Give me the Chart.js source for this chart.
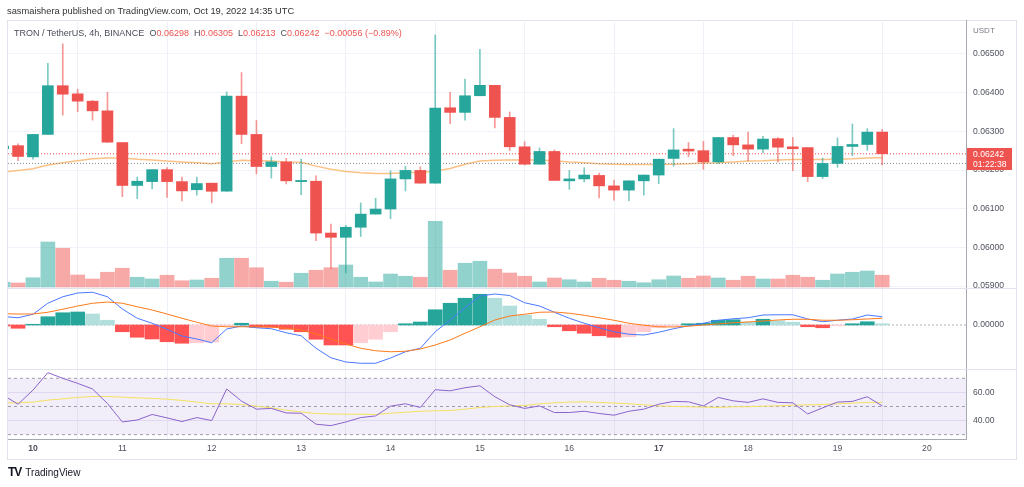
<!DOCTYPE html>
<html>
<head>
<meta charset="utf-8">
<script src="https://cdn.jsdelivr.net/npm/chart.js@4.4.1/dist/chart.umd.min.js"></script>
<style>
  body { margin: 0; background: #fff; font-family: "Liberation Sans", Arial, sans-serif; }
  #wrap { position: relative; width: 1024px; height: 487px; overflow: hidden; }
  #frame { position: absolute; left: 7px; top: 20px; width: 1010px; height: 440px; border: 1px solid #e0e3eb; box-sizing: border-box; }
  canvas { position: absolute; left: 0; top: 0; }
  #hdr { position: absolute; left: 7px; top: 6px; font-size: 9.3px; color: #333; white-space: nowrap; }
  #legend { position: absolute; left: 14px; top: 28px; font-size: 9px; color: #4a4e59; white-space: nowrap; }
  #legend span { margin-left: 5px; }
  #legend b { font-weight: normal; color: #ef5350; }
  #logo { position: absolute; left: 8px; top: 465px; font-size: 10px; color: #131722; white-space: nowrap; }
  #logo .mark { font-weight: 900; font-size: 12px; letter-spacing: -1px; margin-right: 4px; }
</style>
</head>
<body>
<div id="wrap">
  <div id="frame"></div>
  <canvas id="chart" width="1024" height="487"></canvas>
  <div id="hdr">sasmaishera published on TradingView.com, Oct 19, 2022 14:35 UTC</div>
  <div id="legend"></div>
  <div id="logo"><span class="mark">TV</span>TradingView</div>
</div>
<script>
// ─── data (TRX/USDT 4h, Binance) ───────────────────────────
// hours relative to Oct 10 00:00 UTC; first candle opens Oct 9 16:00
const firstHour = -8;
const dayLabels = ["10", "11", "12", "13", "14", "15", "16", "17", "18", "19", "20"];
const boldDays = ["10", "17"];
const priceTicks = [0.059, 0.060, 0.061, 0.062, 0.063, 0.064, 0.065];
const rsiTicks = [40, 60];
const rsiLevels = [70, 50, 30];
const prevDayClose = 0.06217;
const countdown = "01:22:38";

const opens = [0.06255, 0.06263, 0.06234, 0.06292, 0.06418, 0.06397, 0.06378, 0.06353, 0.06271, 0.06160,
  0.06170, 0.06201, 0.06170, 0.06149, 0.06166, 0.06145, 0.06391, 0.06292, 0.06209, 0.06221,
  0.06170, 0.06171, 0.06037, 0.06026, 0.06052, 0.06086, 0.06099, 0.06177, 0.06199, 0.06166,
  0.06361, 0.06349, 0.06392, 0.06419, 0.06336, 0.06260, 0.06215, 0.06248, 0.06172, 0.06177,
  0.06186, 0.06159, 0.06148, 0.06172, 0.06187, 0.06230, 0.06254, 0.06250, 0.06221, 0.06284,
  0.06265, 0.06254, 0.06281, 0.06260, 0.06258, 0.06183, 0.06217, 0.06261, 0.06266, 0.06298];
const highs = [0.06266, 0.06268, 0.06292, 0.06476, 0.06526, 0.06409, 0.06380, 0.06401, 0.06271, 0.06182,
  0.06201, 0.06206, 0.06182, 0.06182, 0.06166, 0.06402, 0.06452, 0.06328, 0.06234, 0.06230,
  0.06228, 0.06185, 0.06060, 0.06057, 0.06115, 0.06127, 0.06198, 0.06210, 0.06208, 0.06549,
  0.06401, 0.06435, 0.06512, 0.06419, 0.06350, 0.06273, 0.06257, 0.06252, 0.06199, 0.06206,
  0.06192, 0.06174, 0.06172, 0.06187, 0.06228, 0.06307, 0.06271, 0.06274, 0.06284, 0.06290,
  0.06298, 0.06287, 0.06284, 0.06284, 0.06258, 0.06231, 0.06283, 0.06319, 0.06307, 0.06305];
const lows = [0.06248, 0.06224, 0.06228, 0.06292, 0.06342, 0.06351, 0.06329, 0.06271, 0.06131, 0.06126,
  0.06151, 0.06129, 0.06120, 0.06135, 0.06115, 0.06145, 0.06268, 0.06190, 0.06179, 0.06164,
  0.06136, 0.06017, 0.05945, 0.05934, 0.06028, 0.06086, 0.06074, 0.06146, 0.06166, 0.06166,
  0.06320, 0.06329, 0.06392, 0.06309, 0.06250, 0.06213, 0.06215, 0.06173, 0.06150, 0.06169,
  0.06128, 0.06122, 0.06121, 0.06135, 0.06165, 0.06210, 0.06234, 0.06202, 0.06217, 0.06237,
  0.06224, 0.06244, 0.06221, 0.06198, 0.06170, 0.06178, 0.06207, 0.06237, 0.06251, 0.06213];
const closes = [0.06262, 0.06235, 0.06292, 0.06418, 0.06396, 0.06378, 0.06353, 0.06272, 0.06160, 0.06171,
  0.06201, 0.06170, 0.06146, 0.06165, 0.06145, 0.06391, 0.06292, 0.06209, 0.06221, 0.06172,
  0.06173, 0.06037, 0.06026, 0.06052, 0.06086, 0.06099, 0.06177, 0.06199, 0.06166, 0.06360,
  0.06349, 0.06392, 0.06419, 0.06336, 0.06260, 0.06215, 0.06248, 0.06173, 0.06177, 0.06187,
  0.06159, 0.06148, 0.06172, 0.06187, 0.06228, 0.06252, 0.06249, 0.06221, 0.06284, 0.06265,
  0.06254, 0.06280, 0.06259, 0.06255, 0.06183, 0.06217, 0.06261, 0.06266, 0.06298, 0.06242];
// volume, millions of TRX
const volumes = [38, 32, 74, 360, 310, 96, 64, 118, 150, 78,
  64, 94, 50, 56, 70, 230, 230, 154, 46, 38,
  110, 134, 154, 176, 78, 40, 104, 86, 78, 526,
  134, 190, 206, 142, 112, 86, 40, 72, 58, 40,
  70, 54, 46, 34, 58, 88, 70, 88, 72, 54,
  86, 64, 64, 94, 78, 54, 104, 118, 128, 94];
const priceMA = [0.06195, 0.06199, 0.06203, 0.06213, 0.06219, 0.06224, 0.06229, 0.06231, 0.06231, 0.06228,
  0.06226, 0.06223, 0.06221, 0.06219, 0.06216, 0.06221, 0.06225, 0.06224, 0.06223, 0.06221,
  0.06220, 0.06210, 0.06202, 0.06196, 0.06193, 0.06191, 0.06191, 0.06193, 0.06194, 0.06197,
  0.06204, 0.06215, 0.06223, 0.06225, 0.06226, 0.06226, 0.06226, 0.06224, 0.06221, 0.06219,
  0.06216, 0.06215, 0.06214, 0.06214, 0.06214, 0.06215, 0.06216, 0.06218, 0.06219, 0.06221,
  0.06223, 0.06224, 0.06226, 0.06227, 0.06227, 0.06227, 0.06228, 0.06229, 0.06231, 0.06232];
// MACD values in micro-USDT (1e-6)
const macdLine = [34, 29, 43, 87, 113, 128, 131, 113, 64, 27,
  7, -17, -44, -56, -71, -16, -4, -11, -15, -31,
  -43, -93, -131, -148, -153, -153, -132, -107, -93, -27,
  20, 69, 116, 124, 118, 89, 76, 51, 27, 7,
  -11, -27, -37, -40, -29, -15, -3, 7, 19, 25,
  29, 40, 41, 41, 24, 13, 19, 24, 40, 33];
const signalLine = [45, 44, 44, 51, 63, 76, 87, 92, 87, 73,
  60, 44, 27, 11, -4, -7, -7, -7, -8, -13,
  -20, -36, -56, -76, -93, -103, -107, -105, -96, -80,
  -60, -33, -7, 20, 36, 43, 51, 52, 47, 39,
  29, 19, 7, -1, -7, -8, -5, 0, 4, 9,
  12, 16, 20, 23, 23, 19, 19, 21, 24, 27];
const macdHist = [-4, -13, 3, 33, 49, 52, 44, 19, -27, -49,
  -56, -67, -73, -71, -68, -4, 7, -9, -9, -17,
  -27, -57, -80, -80, -71, -57, -27, 5, 12, 61,
  87, 107, 123, 107, 76, 40, 23, -7, -23, -33,
  -43, -49, -47, -27, -11, -4, 5, 7, 19, 21,
  12, 23, 17, 11, -7, -11, -3, 5, 13, 5];
const rsi = [58, 51.6, 61.6, 74.0, 70.0, 66.4, 62.4, 52.1, 39.0, 40.4,
  44.3, 41.9, 39.3, 42.1, 40.0, 62.4, 53.8, 48.1, 48.6, 45.4,
  45.2, 37.4, 36.4, 39.0, 42.1, 43.3, 50.2, 51.9, 49.3, 61.9,
  61.1, 63.3, 64.7, 56.9, 51.2, 48.6, 50.4, 45.7, 45.7, 46.6,
  45.0, 43.8, 46.6, 48.1, 51.6, 53.6, 53.3, 50.4, 56.4, 54.0,
  52.9, 55.4, 52.9, 52.6, 44.7, 49.0, 53.1, 53.6, 56.9, 50.4];
const rsiMA = [52.6, 52.6, 53.1, 54.5, 55.4, 56.4, 57.1, 57.1, 56.6, 56.1,
  55.7, 55.2, 54.3, 53.1, 51.9, 51.9, 51.4, 50.2, 49.0, 47.4,
  46.1, 45.0, 44.7, 44.5, 44.5, 44.3, 45.2, 45.9, 46.6, 46.9,
  47.1, 48.1, 49.3, 50.0, 50.4, 50.7, 51.9, 52.6, 53.1, 53.3,
  52.9, 52.4, 51.9, 51.2, 50.4, 50.0, 49.8, 49.5, 49.3, 49.8,
  49.8, 50.2, 50.4, 50.9, 51.2, 51.4, 51.9, 52.4, 52.9, 52.9];

// ─── view ranges ───────────────────────────────────────────
const xMin = -6.7, xMax = 250.5;
const priceMin = 0.058949, priceMax = 0.065879;
const macdMin = -176, macdMax = 148;
const rsiMin = 26.9, rsiMax = 76.6;
const volMin = -1216, volMax = 2136;

const UP = "#26a69a", DOWN = "#ef5350";
const hours = opens.map((_, i) => firstHour + 4 * i);
const isUp = i => closes[i] >= opens[i];
const series = arr => arr.map((v, i) => ({ x: hours[i], y: v }));
const hline = v => [{ x: xMin, y: v }, { x: xMax, y: v }];

// ─── legend ────────────────────────────────────────────────
const last = opens.length - 1;
const chg = closes[last] - closes[last - 1];
const sgn = v => (v < 0 ? "\u2212" : "+");
document.getElementById("legend").innerHTML =
  "TRON / TetherUS, 4h, BINANCE" +
  `<span>O<b>${opens[last].toFixed(5)}</b></span>` +
  `<span>H<b>${highs[last].toFixed(5)}</b></span>` +
  `<span>L<b>${lows[last].toFixed(5)}</b></span>` +
  `<span>C<b>${closes[last].toFixed(5)}</b></span>` +
  `<span><b>${sgn(chg)}${Math.abs(chg).toFixed(5)} (${sgn(chg)}${Math.abs(chg / closes[last - 1] * 100).toFixed(2)}%)</b></span>`;

// ─── decorations: pane separators, last price label ───────
const paneDecor = {
  id: "paneDecor",
  afterDraw(chart) {
    const { ctx, chartArea, scales } = chart;
    ctx.save();
    ctx.strokeStyle = "#e0e3eb";
    ctx.lineWidth = 1;
    [scales.yMacd.top, scales.yRsi.top].forEach(y => {
      const yy = Math.round(y) + 0.5;
      ctx.beginPath();
      ctx.moveTo(chartArea.left, yy);
      ctx.lineTo(1016, yy);
      ctx.stroke();
    });

    ctx.fillStyle = "#787b86";
    ctx.font = '8px "Liberation Sans", Arial, sans-serif';
    ctx.textBaseline = "middle";
    ctx.fillText("USDT", chartArea.right + 7, 31);

    const y = scales.yPrice.getPixelForValue(closes[last]);
    ctx.fillStyle = DOWN;
    ctx.fillRect(chartArea.right + 1, Math.round(y) - 6, 45, 22);
    ctx.fillStyle = "#fff";
    ctx.font = '8.6px "Liberation Sans", Arial, sans-serif';
    ctx.fillText(closes[last].toFixed(5), chartArea.right + 7, y + 1);
    ctx.fillText(countdown, chartArea.right + 7, y + 10.5);
    ctx.restore();
  }
};

const histColor = c => {
  const i = c.dataIndex, v = macdHist[i], p = i > 0 ? macdHist[i - 1] : v;
  return v >= 0 ? (p < v ? "#26a69a" : "#b2dfdb") : (p < v ? "#ffcdd2" : "#ff5252");
};

const tickColor = "#4f525d";
const axisBorder = { display: true, color: "#a6a9b2" };
const fixW = s => { s.width = 50; };
const dayFont = c => {
  const lbl = c.tick ? dayLabels[Math.round(c.tick.value / 24)] : "";
  return { size: 8.6, weight: boldDays.includes(lbl) ? "bold" : "normal" };
};

Chart.defaults.font.family = '"Liberation Sans", Arial, sans-serif';
Chart.defaults.font.size = 8.6;

new Chart(document.getElementById("chart"), {
  type: "bar",
  data: {
    datasets: [
      { // volume
        data: series(volumes), yAxisID: "yVol", grouped: false, barThickness: 14, order: 10,
        backgroundColor: c => (isUp(c.dataIndex) ? "rgba(38,166,154,0.5)" : "rgba(239,83,80,0.5)")
      },
      { // wicks
        data: hours.map((x, i) => ({ x, y: [lows[i], highs[i]] })), yAxisID: "yPrice",
        grouped: false, barThickness: 1, order: 2,
        backgroundColor: c => (isUp(c.dataIndex) ? "rgba(38,166,154,0.6)" : "rgba(239,83,80,0.6)")
      },
      { // bodies
        data: hours.map((x, i) => ({ x, y: [opens[i], closes[i]] })), yAxisID: "yPrice",
        grouped: false, barThickness: 11, minBarLength: 1, order: 1,
        backgroundColor: c => (isUp(c.dataIndex) ? UP : DOWN)
      },
      { type: "line", data: series(priceMA), yAxisID: "yPrice", borderColor: "#fbc285", borderWidth: 1.5, pointRadius: 0, order: 4 },
      { type: "line", data: hline(closes[last]), yAxisID: "yPrice", borderColor: DOWN, borderWidth: 1, borderDash: [1, 2], pointRadius: 0, order: 3 },
      { type: "line", data: hline(prevDayClose), yAxisID: "yPrice", borderColor: "#8a8d96", borderWidth: 1, borderDash: [1, 2], pointRadius: 0, order: 3 },

      { // MACD histogram
        data: series(macdHist), yAxisID: "yMacd", grouped: false, barThickness: 14, order: 7,
        backgroundColor: histColor
      },
      { type: "line", data: hline(0), yAxisID: "yMacd", borderColor: "rgba(120,123,134,0.6)", borderWidth: 1, borderDash: [2, 2], pointRadius: 0, order: 8 },
      { type: "line", data: series(signalLine), yAxisID: "yMacd", borderColor: "#ff7a1a", borderWidth: 1, pointRadius: 0, order: 5 },
      { type: "line", data: series(macdLine), yAxisID: "yMacd", borderColor: "#4a78ff", borderWidth: 1, pointRadius: 0, order: 5 },

      { // RSI band
        type: "line", data: hline(rsiLevels[0]), yAxisID: "yRsi", borderColor: "rgba(120,123,134,0.7)",
        borderWidth: 1, borderDash: [3, 3], pointRadius: 0, order: 9,
        fill: { value: rsiLevels[2] }, backgroundColor: "rgba(126,87,194,0.1)"
      },
      { type: "line", data: hline(rsiLevels[1]), yAxisID: "yRsi", borderColor: "rgba(120,123,134,0.7)", borderWidth: 1, borderDash: [3, 3], pointRadius: 0, order: 9 },
      { type: "line", data: hline(rsiLevels[2]), yAxisID: "yRsi", borderColor: "rgba(120,123,134,0.7)", borderWidth: 1, borderDash: [3, 3], pointRadius: 0, order: 9 },
      { type: "line", data: series(rsiMA), yAxisID: "yRsi", borderColor: "#f4e15e", borderWidth: 1, pointRadius: 0, order: 1 },
      { type: "line", data: series(rsi), yAxisID: "yRsi", borderColor: "#8a63cc", borderWidth: 1, pointRadius: 0, order: 0 }
    ]
  },
  options: {
    responsive: false,
    animation: false,
    devicePixelRatio: 1,
    layout: { padding: { left: 8, top: 20, right: 8, bottom: 27 } },
    plugins: { legend: { display: false }, tooltip: { enabled: false } },
    scales: {
      x: {
        type: "linear", min: xMin, max: xMax, offset: false,
        afterBuildTicks: s => { s.ticks = dayLabels.map((_, i) => ({ value: i * 24 })); },
        afterFit: s => { s.height = 21; },
        ticks: {
          autoSkip: false, maxRotation: 0, padding: 4, color: tickColor,
          callback: v => dayLabels[Math.round(v / 24)],
          font: dayFont
        },
        grid: { color: "#edf1f7", drawTicks: false },
        border: axisBorder
      },
      yPrice: {
        position: "right", stack: "pane", stackWeight: 268, min: priceMin, max: priceMax,
        afterBuildTicks: s => { s.ticks = priceTicks.map(v => ({ value: v })); },
        afterFit: fixW,
        ticks: { autoSkip: false, padding: 7, color: tickColor, callback: v => v.toFixed(5) },
        grid: { color: "#f0f3fa", drawTicks: false },
        border: axisBorder
      },
      yMacd: {
        position: "right", stack: "pane", stackWeight: 81, min: macdMin, max: macdMax,
        afterBuildTicks: s => { s.ticks = [{ value: 0 }]; },
        afterFit: fixW,
        ticks: { autoSkip: false, padding: 7, color: tickColor, callback: v => (v * 1e-6).toFixed(5) },
        grid: { display: false, drawTicks: false },
        border: axisBorder
      },
      yRsi: {
        position: "right", stack: "pane", stackWeight: 70, min: rsiMin, max: rsiMax,
        afterBuildTicks: s => { s.ticks = rsiTicks.map(v => ({ value: v })); },
        afterFit: fixW,
        ticks: { autoSkip: false, padding: 7, color: tickColor, callback: v => v.toFixed(2) },
        grid: { color: "#ebe7f3", drawTicks: false },
        border: axisBorder
      },
      yVol: { position: "right", display: false, min: volMin, max: volMax }
    }
  },
  plugins: [paneDecor]
});
</script>
</body>
</html>
